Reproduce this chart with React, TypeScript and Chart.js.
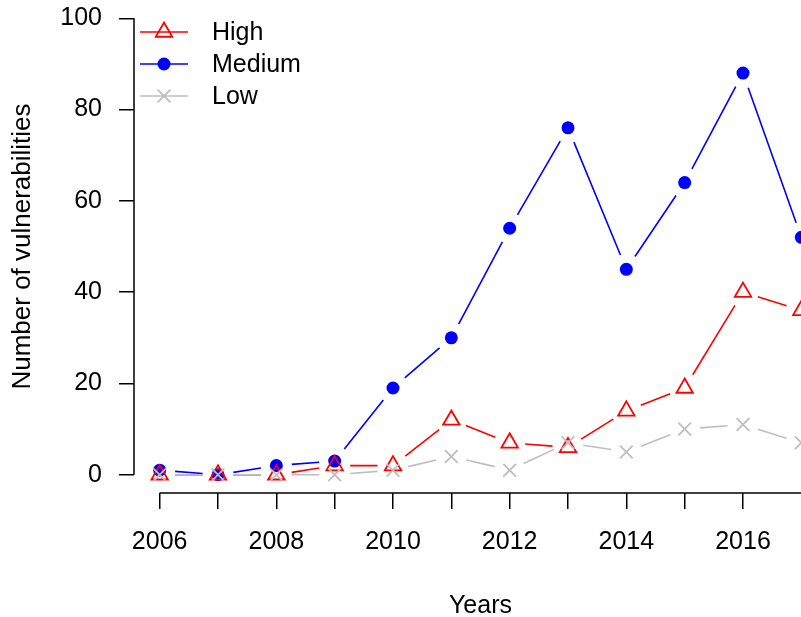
import React, { useEffect, useRef } from 'react';
import { Chart, registerables } from 'chart.js';
import { drawPoint } from 'chart.js/helpers';

Chart.register(...registerables);

// ---- data ----
const years = [2006, 2007, 2008, 2009, 2010, 2011, 2012, 2013, 2014, 2015, 2016, 2017];
const high = [0, 0, 0, 2, 2, 12, 7, 6, 14, 19, 40, 36];
const medium = [1, 0, 2, 3, 19, 30, 54, 76, 45, 64, 88, 52];
const low = [0, 0, 0, 0, 1, 4, 1, 7, 5, 10, 11, 7];
const seriesNames = ['High', 'Medium', 'Low'];
const xTicks = [2006, 2007, 2008, 2009, 2010, 2011, 2012, 2013, 2014, 2015, 2016, 2017];
const xTickLabels = ['2006', '', '2008', '', '2010', '', '2012', '', '2014', '', '2016', ''];
const yTicks = [0, 20, 40, 60, 80, 100];
const xTitle = 'Years';
const yTitle = 'Number of vulnerabilities';

const FONT = '"Liberation Sans", Arial, Helvetica, sans-serif';
const FS = 25;
const RED = '#FF0000';
const BLUE = '#0000FF';
const GRAY = '#BEBEBE';

const toPts = (vals: number[]) => vals.map((v, i) => ({ x: years[i], y: v }));

const gappedLines = {
  id: 'gappedLines',
  beforeDatasetsDraw(chart: any) {
    const ctx = chart.ctx;
    const area = chart.chartArea;
    const gap = 15.5;
    ctx.save();
    ctx.beginPath();
    ctx.rect(area.left, area.top, area.right - area.left, area.bottom - area.top);
    ctx.clip();
    chart.data.datasets.forEach((ds: any, i: number) => {
      const meta = chart.getDatasetMeta(i);
      const pts = meta.data;
      ctx.strokeStyle = ds.borderColor;
      ctx.lineWidth = 1.6;
      ctx.lineCap = 'butt';
      ctx.beginPath();
      for (let k = 0; k < pts.length - 1; k++) {
        const a = pts[k], b = pts[k + 1];
        const dx = b.x - a.x, dy = b.y - a.y;
        const len = Math.hypot(dx, dy);
        if (len <= 2 * gap) continue;
        const ux = dx / len, uy = dy / len;
        ctx.moveTo(a.x + ux * gap, a.y + uy * gap);
        ctx.lineTo(b.x - ux * gap, b.y - uy * gap);
      }
      ctx.stroke();
    });
    ctx.restore();
  },
};

const axesAndLegend = {
  id: 'axesAndLegend',
  afterDraw(chart: any) {
    const ctx = chart.ctx;
    const xs = chart.scales.x;
    const ys = chart.scales.y;
    const area = chart.chartArea;
    ctx.save();
    ctx.strokeStyle = '#000';
    ctx.lineWidth = 1.5;
    ctx.beginPath();
    ctx.moveTo(area.left, ys.getPixelForValue(yTicks[0]));
    ctx.lineTo(area.left, ys.getPixelForValue(yTicks[yTicks.length - 1]));
    ctx.moveTo(xs.getPixelForValue(xTicks[0]), area.bottom);
    ctx.lineTo(xs.getPixelForValue(xTicks[xTicks.length - 1]), area.bottom);
    ctx.stroke();

    // legend
    const lx0 = 140, lx1 = 188, mx = 164, tx = 212;
    const rows = [32, 64, 96];
    chart.data.datasets.forEach((ds: any, i: number) => {
      const y = rows[i];
      ctx.strokeStyle = ds.borderColor;
      ctx.lineWidth = 1.6;
      ctx.beginPath();
      ctx.moveTo(lx0, y);
      ctx.lineTo(lx1, y);
      ctx.stroke();
      ctx.fillStyle = ds.pointBackgroundColor;
      ctx.strokeStyle = ds.pointBorderColor;
      ctx.lineWidth = ds.pointBorderWidth;
      drawPoint(ctx, { pointStyle: ds.pointStyle, radius: ds.pointRadius, rotation: 0, borderWidth: ds.pointBorderWidth }, mx, y);
      ctx.fillStyle = '#000';
      ctx.font = `${FS}px ${FONT}`;
      ctx.textAlign = 'left';
      ctx.textBaseline = 'middle';
      ctx.fillText(ds.label, tx, y + 1);
    });
    ctx.restore();
  },
};

export default function App() {
  const ref = useRef<HTMLCanvasElement>(null);
  useEffect(() => {
    if (!ref.current) return;
    const chart = new Chart(ref.current, {
      type: 'scatter',
      data: {
        datasets: [
          {
            label: seriesNames[0],
            data: toPts(high),
            borderColor: RED,
            pointStyle: 'triangle',
            pointRadius: 9.5,
            pointBorderWidth: 1.8,
            pointBorderColor: RED,
            pointBackgroundColor: 'rgba(0,0,0,0)',
            showLine: false,
            order: 1,
          },
          {
            label: seriesNames[1],
            data: toPts(medium),
            borderColor: BLUE,
            pointStyle: 'circle',
            pointRadius: 6.5,
            pointBorderWidth: 0,
            pointBorderColor: BLUE,
            pointBackgroundColor: BLUE,
            showLine: false,
            order: 2,
          },
          {
            label: seriesNames[2],
            data: toPts(low),
            borderColor: GRAY,
            pointStyle: 'crossRot',
            pointRadius: 9,
            pointBorderWidth: 1.8,
            pointBorderColor: GRAY,
            pointBackgroundColor: GRAY,
            showLine: false,
            order: 0,
          },
        ] as any,
      },
      options: {
        animation: false,
        responsive: false,
        devicePixelRatio: 1,
        events: [],
        layout: { padding: 0, autoPadding: false },
        plugins: { legend: { display: false }, tooltip: { enabled: false }, title: { display: false } },
        scales: {
          x: {
            type: 'linear',
            min: 2005.56,
            max: 2017.44,
            afterBuildTicks: (s: any) => { s.ticks = xTicks.map((v) => ({ value: v })); },
            afterFit: (s: any) => { s.height = 124; s.paddingLeft = 0; s.paddingRight = 0; },
            grid: { drawOnChartArea: false, drawTicks: true, tickLength: 16, color: '#000', lineWidth: 1.5 },
            border: { display: false },
            ticks: {
              autoSkip: false,
              maxRotation: 0,
              minRotation: 0,
              padding: 18,
              color: '#000',
              font: { family: FONT, size: FS, lineHeight: 1.2 },
              callback: (v: any) => { const i = xTicks.indexOf(Number(v)); return i >= 0 ? xTickLabels[i] : ''; },
            },
            title: { display: true, text: xTitle, color: '#000', font: { family: FONT, size: FS, lineHeight: 1 }, padding: { top: 0, bottom: -1.5 } },
          },
          y: {
            type: 'linear',
            min: -4,
            max: 104,
            afterBuildTicks: (s: any) => { s.ticks = yTicks.map((v) => ({ value: v })); },
            afterFit: (s: any) => { s.width = 134; s.paddingTop = 0; s.paddingBottom = 0; },
            grid: { drawOnChartArea: false, drawTicks: true, tickLength: 15, color: '#000', lineWidth: 1.5 },
            border: { display: false },
            ticks: {
              padding: 17,
              color: '#000',
              font: { family: FONT, size: FS, lineHeight: 1.2 },
              callback: (v: any) => String(v),
            },
            title: { display: true, text: yTitle, color: '#000', font: { family: FONT, size: 26, lineHeight: 1 }, padding: { top: 10, bottom: 0 } },
          },
        },
      } as any,
      plugins: [gappedLines, axesAndLegend],
    });
    return () => chart.destroy();
  }, []);
  return (
    <div style={{ position: 'fixed', left: 0, top: 0, width: 801, height: 617, overflow: 'hidden', background: '#fff' }}>
      <canvas ref={ref} width={827} height={617} style={{ display: 'block', width: 827, height: 617 }} />
    </div>
  );
}
